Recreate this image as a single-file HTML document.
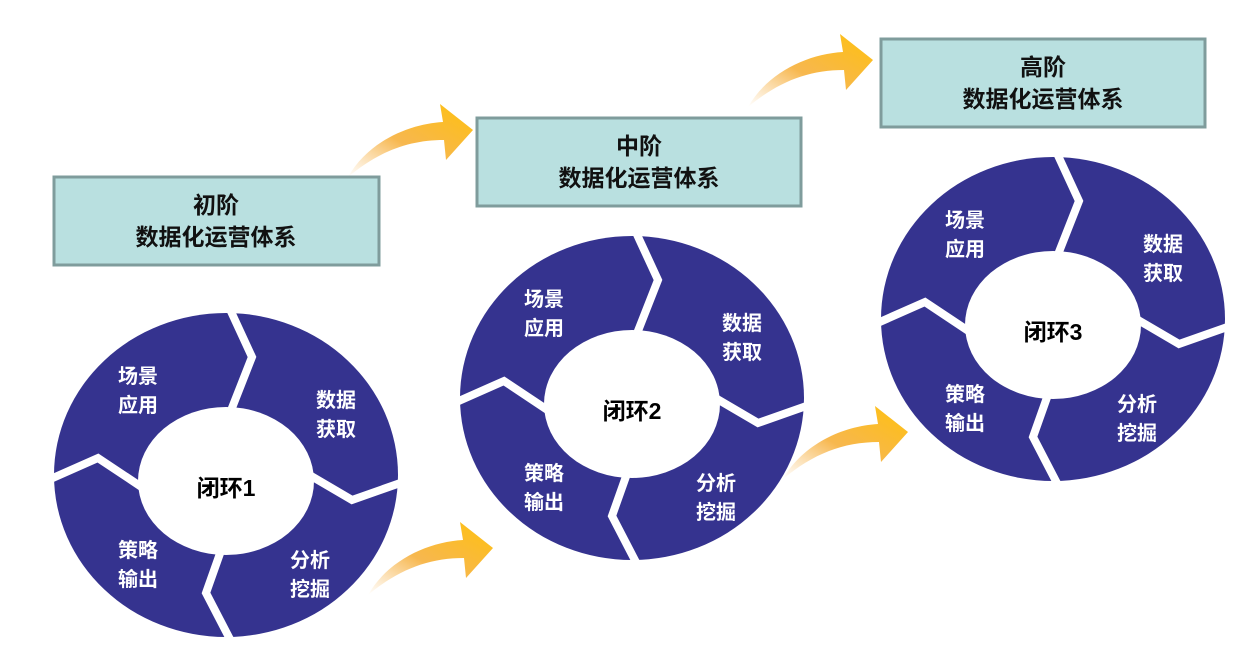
<!DOCTYPE html>
<html><head><meta charset="utf-8"><style>
html,body{margin:0;padding:0;background:#fff;}
svg{display:block;}
text{font-family:"Liberation Sans","Noto Sans CJK SC",sans-serif;font-weight:bold;}
</style></head><body>
<svg width="1256" height="646" viewBox="0 0 1256 646" xmlns="http://www.w3.org/2000/svg">
<defs>
<linearGradient id="og" x1="0" y1="1" x2="1" y2="0">
<stop offset="0" stop-color="#f7b24a" stop-opacity="0"/>
<stop offset="0.45" stop-color="#f5a623" stop-opacity="0.8"/>
<stop offset="1" stop-color="#ffc20e"/>
</linearGradient>
<g id="ring">
<ellipse cx="0" cy="0" rx="172" ry="162" fill="#35338f"/>
<g fill="none" stroke="#fff" stroke-width="8" stroke-linejoin="miter">
<polyline points="2,-170 26,-118 4,-62"/>
<polyline points="80,-2 126,25 180,6"/>
<polyline points="7,170 -20,118 -3,70"/>
<polyline points="-180,6 -128,-17 -80,15"/>
</g>
<ellipse cx="0" cy="6" rx="88" ry="74" fill="#fff"/>
<g fill="#fff" font-size="20" text-anchor="middle">
<text x="-88" y="-92">场景</text><text x="-88" y="-63">应用</text>
<text x="110" y="-68">数据</text><text x="110" y="-39">获取</text>
<text x="84" y="92">分析</text><text x="84" y="121">挖掘</text>
<text x="-88" y="82">策略</text><text x="-88" y="111">输出</text>
</g>
</g>
<path id="arr" d="M0,45 C20,10 60,-8 95,-10 L92,-28 L125,-2 L98,28 L96,8 C60,8 30,20 0,45 Z" fill="url(#og)"/>
</defs>

<use href="#arr" x="348" y="132"/>
<use href="#arr" x="748" y="62"/>
<use href="#arr" x="368" y="550"/>
<use href="#arr" x="783" y="434"/>

<g transform="translate(226,475)"><use href="#ring"/><text x="0" y="21" font-size="23" text-anchor="middle" fill="#000">闭环1</text></g>
<g transform="translate(632,398)"><use href="#ring"/><text x="0" y="21" font-size="23" text-anchor="middle" fill="#000">闭环2</text></g>
<g transform="translate(1053,319)"><use href="#ring"/><text x="0" y="21" font-size="23" text-anchor="middle" fill="#000">闭环3</text></g>

<g fill="#b9e0e0" stroke="#7f9c9c" stroke-width="3">
<rect x="54" y="177" width="325" height="88"/>
<rect x="477" y="118" width="324" height="88"/>
<rect x="881" y="39" width="324" height="88"/>
</g>
<g font-size="23" text-anchor="middle" fill="#111">
<text x="216" y="213">初阶</text><text x="216" y="245">数据化运营体系</text>
<text x="639" y="154">中阶</text><text x="639" y="186">数据化运营体系</text>
<text x="1043" y="75">高阶</text><text x="1043" y="107">数据化运营体系</text>
</g>
</svg>
</body></html>
